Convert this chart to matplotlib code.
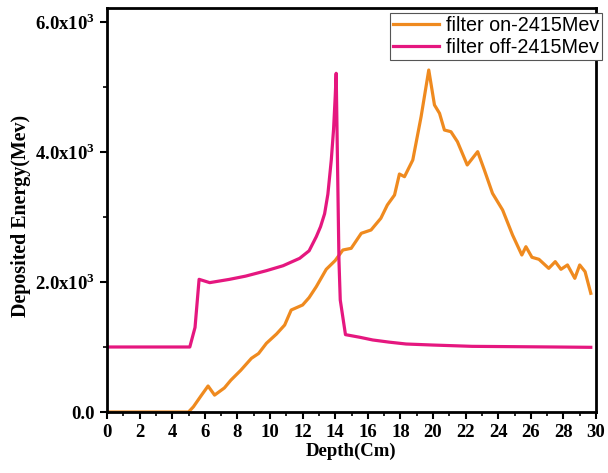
import matplotlib
matplotlib.use("Agg")
import matplotlib.pyplot as plt
from matplotlib.ticker import MultipleLocator, FixedLocator

# filter on (orange)
on_depth = [0, 5.0, 5.3, 5.8, 6.2, 6.6, 7.2, 7.6, 8.2, 8.86, 9.3, 9.78, 10.4, 10.9, 11.3,
            12.0, 12.4, 12.84, 13.45, 14.0, 14.47, 14.98, 15.6, 16.2, 16.8, 17.2, 17.64,
            17.94, 18.25, 18.76, 19.27, 19.74, 20.09, 20.4, 20.7, 21.1, 21.5, 22.1, 22.74,
            23.15, 23.65, 24.27, 24.88, 25.45, 25.7, 26.07, 26.5, 27.1, 27.5, 27.85,
            28.25, 28.7, 29.0, 29.33, 29.68]
on_energy = [0, 0, 80, 260, 400, 260, 370, 490, 640, 826, 900, 1057, 1200, 1338, 1569,
             1646, 1760, 1928, 2195, 2330, 2492, 2518, 2749, 2800, 2980, 3185, 3338,
             3661, 3620, 3877, 4543, 5261, 4723, 4595, 4338, 4312, 4158, 3800, 4005,
             3723, 3364, 3108, 2723, 2415, 2543, 2380, 2349, 2210, 2313, 2195,
             2262, 2056, 2262, 2159, 1826]

# filter off (magenta)
off_depth = [0, 5.08, 5.4, 5.65, 6.3, 7.5, 8.5, 9.78, 10.8, 11.82, 12.4, 12.84, 13.1,
             13.35, 13.55, 13.76, 13.9, 14.0, 14.06, 14.23, 14.31, 14.63, 15.5, 16.3,
             17.3, 18.35, 20.0, 22.4, 25.0, 27.5, 29.68]
off_energy = [1000, 1000, 1300, 2041, 1990, 2040, 2090, 2174, 2250, 2364, 2480, 2697, 2850,
              3050, 3350, 3877, 4350, 4850, 5210, 2338, 1723, 1190, 1150, 1108,
              1075, 1046, 1030, 1010, 1005, 1000, 995]

x_ticks = list(range(0, 31, 2))
y_ticks = [0, 2000, 4000, 6000]
y_ticklabels = ["0.0", r"2.0x10$^{\mathbf{3}}$", r"4.0x10$^{\mathbf{3}}$", r"6.0x10$^{\mathbf{3}}$"]

c_on = "#EF8A1F"
c_off = "#E5177F"

plt.rcParams["font.family"] = ["Liberation Serif", "DejaVu Serif"]
plt.rcParams["mathtext.fontset"] = "custom"
plt.rcParams["mathtext.bf"] = "Liberation Serif:bold"
plt.rcParams["mathtext.rm"] = "Liberation Serif:bold"

fig = plt.figure(figsize=(6.08, 4.73), dpi=100)
ax = fig.add_axes([107/608, 1 - 412/473, (596-107)/608, (412-8)/473])

ax.plot(on_depth, on_energy, color=c_on, lw=2.3, label="filter on-2415Mev")
ax.plot(off_depth, off_energy, color=c_off, lw=2.3, label="filter off-2415Mev")

ax.set_xlim(0, 30)
ax.set_ylim(0, 6215)
ax.xaxis.set_major_locator(FixedLocator(x_ticks))
ax.xaxis.set_minor_locator(MultipleLocator(1))
ax.yaxis.set_major_locator(FixedLocator(y_ticks))
ax.yaxis.set_minor_locator(MultipleLocator(1000))
ax.set_yticklabels(y_ticklabels)

for s in ax.spines.values():
    s.set_linewidth(2.0)
ax.tick_params(which="major", direction="out", length=5, width=1.5, labelsize=13.5)
ax.tick_params(which="minor", direction="out", length=3, width=1.2)
for lbl in ax.get_xticklabels() + ax.get_yticklabels():
    lbl.set_fontweight("bold")

ax.set_xlabel("Depth(Cm)", fontsize=13.5, fontweight="bold", labelpad=1)
ax.set_ylabel("Deposited Energy(Mev)", fontsize=14.4, fontweight="bold")
ax.yaxis.set_label_coords(-0.155, 0.485)

leg = ax.legend(loc="upper right", bbox_to_anchor=(1.012, 0.987),
                prop={"family": "Liberation Sans", "size": 14.2},
                frameon=True, fancybox=False, edgecolor="#555555", framealpha=1,
                handlelength=2.3, handletextpad=0.35, borderpad=0.15, labelspacing=0.12,
                borderaxespad=0.0)
leg.get_frame().set_linewidth(0.8)

fig.savefig("out.png", dpi=100)
